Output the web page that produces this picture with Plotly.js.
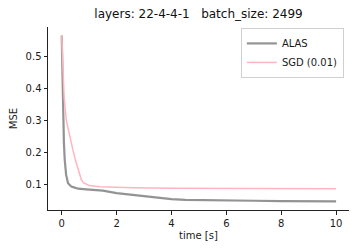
<!DOCTYPE html>
<html><head><meta charset="utf-8">
<script src="https://cdn.plot.ly/plotly-3.0.1.min.js"></script>
<style>html,body{margin:0;padding:0;background:#fff}#c{width:360px;height:252px}</style>
</head><body><div id="c"></div>
<script>
const alasTime = [0, 0.03, 0.05, 0.08, 0.11, 0.16, 0.23, 0.3, 0.35, 0.45, 0.6, 0.9, 1.27, 1.5, 2.0, 2.5, 3.0, 3.5, 4.0, 4.5, 5.0, 6.0, 7.0, 8.0, 9.0, 10.0];
const alasMSE  = [0.567, 0.42, 0.30, 0.23, 0.176, 0.13, 0.103, 0.096, 0.093, 0.09, 0.086, 0.084, 0.082, 0.08, 0.072, 0.067, 0.061, 0.056, 0.053, 0.051, 0.050, 0.049, 0.048, 0.047, 0.047, 0.046];
const sgdTime = [0, 0.04, 0.09, 0.17, 0.27, 0.41, 0.52, 0.63, 0.72, 0.8, 0.9, 1.0, 1.4, 2.0, 2.6, 4.0, 6.0, 8.0, 10.0];
const sgdMSE  = [0.567, 0.45, 0.37, 0.30, 0.259, 0.207, 0.17, 0.134, 0.113, 0.104, 0.099, 0.096, 0.092, 0.09, 0.089, 0.087, 0.087, 0.086, 0.086];
const seriesNames = ["ALAS", "SGD (0.01)"];
const titleText = "layers: 22-4-4-1\u00a0\u00a0\u00a0batch_size: 2499";
const xTicks = [0, 2, 4, 6, 8, 10];
const yTicks = [0.1, 0.2, 0.3, 0.4, 0.5];
const yTickText = ["0.1", "0.2", "0.3", "0.4", "0.5"];

const font = {family: "DejaVu Sans", size: 10, color: "#1a1a1a"};
const traces = [
  {x: alasTime, y: alasMSE, name: seriesNames[0], mode: "lines", line: {color: "rgba(128,128,128,0.85)", width: 2.2}},
  {x: sgdTime, y: sgdMSE, name: seriesNames[1], mode: "lines", line: {color: "#ffb6c1", width: 1.5}}
];
const layout = {
  width: 360, height: 252,
  margin: {l: 48, r: 11, t: 27, b: 42},
  paper_bgcolor: "#fff", plot_bgcolor: "#fff",
  font: font,
  showlegend: true,
  title: {text: titleText, font: {family: "DejaVu Sans", size: 12, color: "#111"}, xref: "paper", x: 0.5, xanchor: "center", yref: "container", y: 0.96, yanchor: "top"},
  xaxis: {range: [-0.5, 10.47], tickvals: xTicks, ticks: "outside", ticklen: 3.5, tickcolor: "#222",
          showgrid: false, zeroline: false, showline: true, linecolor: "#222", linewidth: 1,
          title: {text: "time [s]", font: font, standoff: 4}, tickfont: font},
  yaxis: {range: [0.019, 0.594], tickvals: yTicks, ticktext: yTickText, ticks: "outside", ticklen: 3.5, tickcolor: "#222",
          showgrid: false, zeroline: false, showline: true, linecolor: "#222", linewidth: 1,
          title: {text: "MSE", font: font, standoff: 6}, tickfont: font},
  legend: {x: 0.983, y: 0.995, xanchor: "right", yanchor: "top", bgcolor: "rgba(255,255,255,0.8)", bordercolor: "#d0d0d0", borderwidth: 1,
           font: {family: "DejaVu Sans", size: 10, color: "#1a1a1a"}, tracegroupgap: 0}
};
Plotly.newPlot("c", traces, layout, {staticPlot: true, displayModeBar: false});
</script></body></html>
